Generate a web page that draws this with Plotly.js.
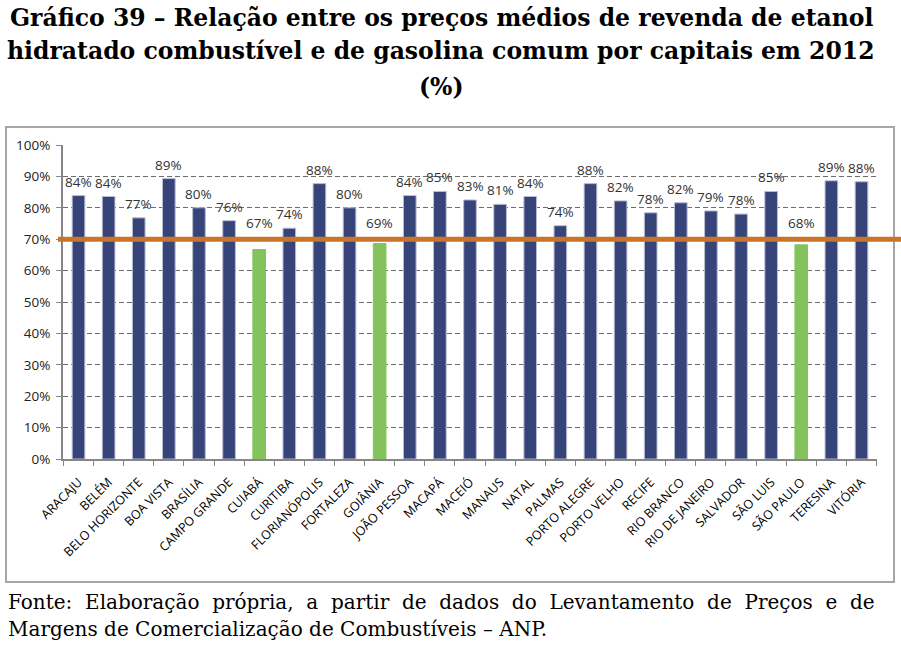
<!DOCTYPE html>
<html>
<head>
<meta charset="utf-8">
<script src="https://cdn.plot.ly/plotly-3.0.1.min.js"></script>
<style>html,body{margin:0;padding:0;background:#fff;}#chart{width:901px;height:648px;}</style>
</head>
<body>
<div id="chart"></div>
<script>
const capitals = ["ARACAJU","BELÉM","BELO HORIZONTE","BOA VISTA","BRASÍLIA","CAMPO GRANDE","CUIABÁ","CURITIBA","FLORIANÓPOLIS","FORTALEZA","GOIÂNIA","JOÃO PESSOA","MACAPÁ","MACEIÓ","MANAUS","NATAL","PALMAS","PORTO ALEGRE","PORTO VELHO","RECIFE","RIO BRANCO","RIO DE JANEIRO","SALVADOR","SÃO LUIS","SÃO PAULO","TERESINA","VITÓRIA"];
const ratioPct = [83.9,83.6,76.8,89.3,80.0,75.9,66.7,73.5,87.7,80.0,68.6,83.9,85.2,82.5,81.1,83.6,74.3,87.7,82.2,78.4,81.6,79.0,78.0,85.2,68.2,88.6,88.3];
const threshold = 70;
const yTickVals = [0,10,20,30,40,50,60,70,80,90,100];
const titleLines = [
  "Gráfico 39 – Relação entre os preços médios de revenda de etanol",
  "hidratado combustível e de gasolina comum por capitais em 2012",
  "(%)"
];
const sourceLines = [
  "Fonte: Elaboração própria, a partir de dados do Levantamento de Preços e de",
  "Margens de Comercialização de Combustíveis – ANP."
];

const NAVY = "#37447a", GREEN = "#84c25e", ORANGE = "#c8742a";
const colors = ratioPct.map(v => v < threshold ? GREEN : NAVY);
const lineColors = ratioPct.map(v => v < threshold ? GREEN : "#b9bdd0");

const trace = {
  type: "bar",
  x: capitals,
  y: ratioPct,
  marker: {color: colors, line: {color: lineColors, width: 1}},
  hoverinfo: "x+y"
};

// plot area geometry (px) used to place decorations
const L = 63, R = 24, T = 145, B = 189, W = 901, H = 648;
const pw = W - L - R, ph = H - T - B;
const px = x => (x - L) / pw;
const py = y => (H - B - y) / ph;

const annotations = [];
// data labels (labels of bars under the reference line sit above the line, as in the original)
capitals.forEach((c, i) => {
  const v = ratioPct[i];
  annotations.push({
    text: Math.round(v) + "%", xref: "x", yref: "y",
    x: c, y: Math.max(v, threshold), xanchor: "center", yanchor: "bottom",
    yshift: v < threshold ? 5 : 3,
    showarrow: false, font: {family: "Open Sans, sans-serif", size: 13.5, color: "#333"}
  });
});
titleLines.forEach((t, i) => {
  annotations.push({
    text: "<b>" + t + "</b>", xref: "paper", yref: "paper",
    x: px(441), y: py([18, 51, 87][i]), xanchor: "center", yanchor: "middle",
    showarrow: false, font: {family: "DejaVu Serif, serif", size: 23.5, color: "#000"}
  });
});
sourceLines.forEach((t, i) => {
  // first line is justified in the original: widen the word gaps
  const txt = i === 0 ? t.split(" ").join(" \u00a0") : t;
  annotations.push({
    text: txt, xref: "paper", yref: "paper",
    x: px(6), y: py([602, 629][i]), xanchor: "left", yanchor: "middle",
    showarrow: false, font: {family: "DejaVu Serif, serif", size: 20, color: "#000"}
  });
});

const layout = {
  width: W, height: H,
  margin: {l: L, r: R, t: T, b: B, pad: 0},
  paper_bgcolor: "#fff", plot_bgcolor: "#fff",
  showlegend: false,
  bargap: 0.58,
  xaxis: {
    type: "category",
    tickangle: -45,
    tickfont: {family: "Open Sans, sans-serif", size: 12.5, color: "#000"},
    ticklabelstandoff: 9,
    showline: true, linecolor: "#868686", linewidth: 2,
    ticks: "outside", tickson: "boundaries", ticklen: 5, tickcolor: "#868686", tickwidth: 1,
    showgrid: false, zeroline: false, fixedrange: true
  },
  yaxis: {
    range: [0, 100],
    tickvals: yTickVals,
    ticktext: yTickVals.map(v => v + "%"),
    tickfont: {family: "Open Sans, sans-serif", size: 13.5, color: "#222"},
    ticklabelstandoff: 3,
    showline: true, linecolor: "#868686", linewidth: 2,
    ticks: "outside", ticklen: 5, tickcolor: "#868686",
    showgrid: true, gridcolor: "#6c6c6c", griddash: "5px,3px", gridwidth: 1,
    zeroline: false, fixedrange: true
  },
  shapes: [
    {type: "rect", xref: "paper", yref: "paper",
     x0: px(6), x1: px(894), y0: py(582), y1: py(127),
     line: {color: "#a6a6a6", width: 2}, layer: "below"},
    {type: "line", xref: "paper", yref: "y",
     x0: px(58), x1: px(901), y0: threshold, y1: threshold,
     line: {color: ORANGE, width: 5}, layer: "above"}
  ],
  annotations: annotations
};

Plotly.newPlot("chart", [trace], layout, {displayModeBar: false, staticPlot: true});
</script>
</body>
</html>
